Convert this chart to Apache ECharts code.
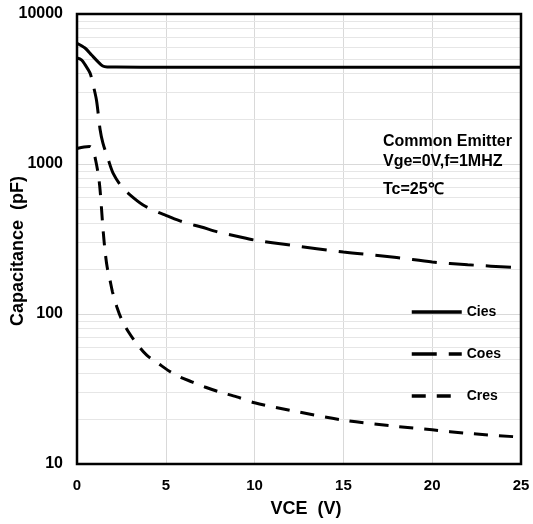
<!DOCTYPE html>
<html>
<head>
<meta charset="utf-8">
<script src="https://cdn.jsdelivr.net/npm/echarts@6/dist/echarts.min.js"></script>
<style>html,body{margin:0;padding:0;background:#fff}#c{width:533px;height:524px}</style>
</head>
<body>
<div id="c"></div>
<script>
var xTicks = [0, 5, 10, 15, 20, 25];
var yTicks = [10, 100, 1000, 10000];
var minorGrid = [20,30,40,50,60,70,80,90,200,300,400,500,600,700,800,900,2000,3000,4000,5000,6000,7000,8000,9000];

var cies = [[0,6380],[0.45,5930],[0.82,5330],[1.2,4780],[1.45,4500],[1.7,4435],[2.2,4425],[5,4420],[10,4420],[15,4420],[20,4420],[25,4420]];
var coes = [[0,5090],[0.25,4950],[0.45,4600],[0.73,4050],[0.9,3400],[1.1,2650],[1.3,1700],[1.46,1380],[1.75,1080],[2.03,870],[2.5,710],[3,620],[3.7,535],[4.5,480],[5,455],[6,410],[7,380],[8,350],[9,330],[10,311],[12,288],[15,259],[18,238],[20,222],[22,213],[25,203]];
var cres = [[0,1270],[0.4,1300],[0.7,1310],[0.9,1250],[1.05,1060],[1.2,850],[1.3,670],[1.48,350],[1.6,250],[1.7,205],[1.85,170],[2.0,140],[2.25,111],[2.53,91],[2.93,75],[3.38,63],[3.94,53],[4.56,47],[5.18,41.7],[5.8,38],[6.5,35.2],[7.2,32.6],[8,30.3],[9,28],[10,25.6],[12,22.8],[15,19.6],[18,17.8],[20,16.9],[22,16.0],[25,15.1]];

var notes = ['Common Emitter', 'Vge=0V,f=1MHZ', 'Tc=25\u2103'];

var font = '"Liberation Sans", Arial, sans-serif';
var chart = echarts.init(document.getElementById('c'));
chart.setOption({
  animation: false,
  grid: {left: 77, right: 12, top: 14, bottom: 60, show: true, z: 3, borderColor: '#000', borderWidth: 2.5,
    containLabel: false, outerBoundsMode: 'none'},
  legend: {
    orient: 'vertical', left: 410, top: 305, padding: 0, itemWidth: 50, itemHeight: 14, itemGap: 28,
    data: ['Cies', 'Coes', 'Cres'],
    itemStyle: {color: 'rgba(0,0,0,0)', borderColor: 'rgba(0,0,0,0)', borderWidth: 0, opacity: 0},
    lineStyle: {width: 3.5},
    textStyle: {fontFamily: font, fontWeight: 'bold', fontSize: 14, color: '#000'}
  },
  xAxis: {
    type: 'value', min: 0, max: 25, interval: 5,
    name: 'VCE  (V)', nameLocation: 'middle', nameGap: 36, nameMoveOverlap: false,
    nameTextStyle: {fontFamily: font, fontWeight: 'bold', fontSize: 18, color: '#000', padding: [0, 0, 0, 14]},
    axisLine: {show: false}, axisTick: {show: false},
    axisLabel: {margin: 14, fontFamily: font, fontWeight: 'bold', fontSize: 15, color: '#000',
      formatter: function (v) { return xTicks.indexOf(v) >= 0 ? String(v) : ''; }},
    splitLine: {show: true, lineStyle: {color: '#d9d9d9', width: 1}}
  },
  yAxis: {
    type: 'log', logBase: 10, min: 10, max: 10000,
    name: 'Capacitance  (pF)', nameLocation: 'middle', nameGap: 50, nameMoveOverlap: false,
    nameTextStyle: {fontFamily: font, fontWeight: 'bold', fontSize: 18, color: '#000', padding: [0, 24, 0, 0]},
    axisLine: {show: false}, axisTick: {show: false},
    axisLabel: {margin: 14, fontFamily: font, fontWeight: 'bold', fontSize: 16, color: '#000',
      formatter: function (v) { return yTicks.indexOf(Math.round(v)) >= 0 ? String(Math.round(v)) : ''; }},
    splitLine: {show: true, lineStyle: {color: '#d9d9d9', width: 1}}
  },
  graphic: notes.map(function (t, i) {
    return {type: 'text', left: 383, top: [134, 154, 182][i], z: 10,
      style: {text: t, fill: '#000', font: 'bold 16px ' + font}};
  }),
  series: [
    {type: 'line', name: '_grid', data: [], silent: true, z: 1,
      markLine: {silent: true, z: 1, symbol: 'none', label: {show: false},
        lineStyle: {color: '#e6e6e6', width: 1, type: 'solid'},
        data: minorGrid.map(function (v) { return {yAxis: v}; })}},
    {type: 'line', name: 'Cies', data: cies, symbol: 'none', smooth: 0.3,
      lineStyle: {color: '#000', width: 3, type: 'solid'}, itemStyle: {color: '#000'}, z: 5},
    {type: 'line', name: 'Coes', data: coes, symbol: 'none', smooth: 0.3,
      lineStyle: {color: '#000', width: 3, type: [25, 12]}, itemStyle: {color: '#000'}, z: 5},
    {type: 'line', name: 'Cres', data: cres, symbol: 'none', smooth: 0.3,
      lineStyle: {color: '#000', width: 3, type: [14, 11]}, itemStyle: {color: '#000'}, z: 5}
  ]
});
</script>
</body>
</html>
